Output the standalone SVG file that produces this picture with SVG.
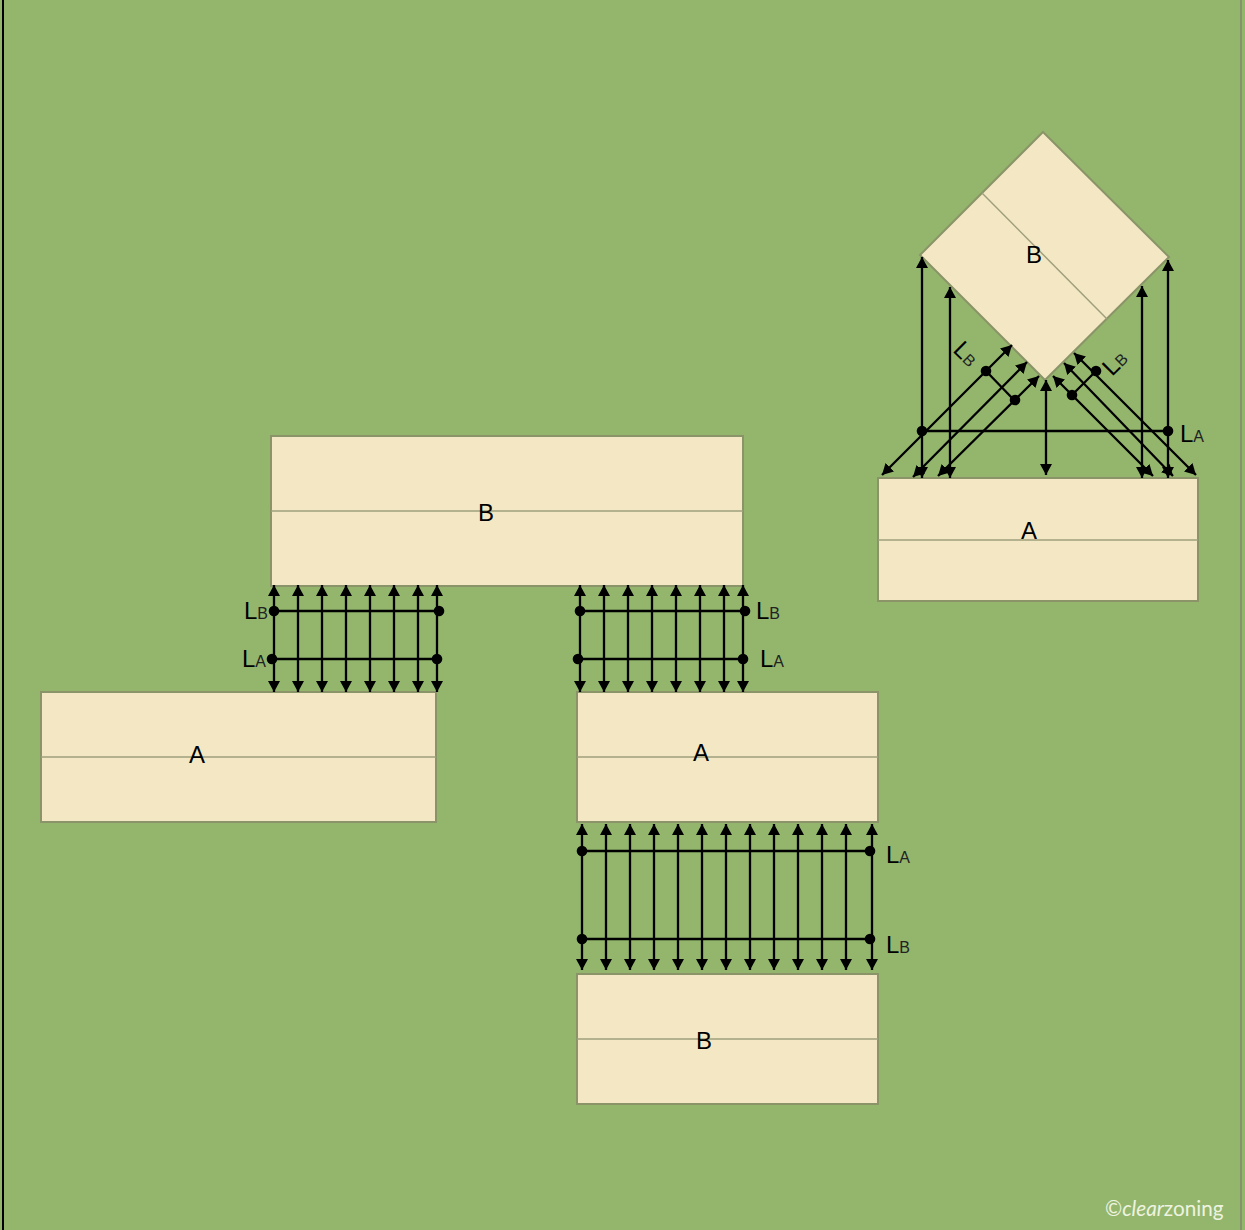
<svg xmlns="http://www.w3.org/2000/svg" width="1245" height="1230" viewBox="0 0 1245 1230">
<style>
.n{fill:#f4e8c4;stroke:#8a9468;stroke-width:2}
.m{fill:none;stroke:#9f9f7e;stroke-width:1.5}
.c line{stroke:#000;stroke-width:2.3;fill:none}
.a{marker-start:url(#h);marker-end:url(#h)}
.t{font-family:"Liberation Sans",Arial,sans-serif;font-size:24px;fill:#000}
.s{font-size:16px;fill:#222}
.d{fill:#000}
</style>
<defs>
<marker id="h" viewBox="0 0 11 13" refX="11" refY="6.5" markerWidth="11" markerHeight="13" markerUnits="userSpaceOnUse" orient="auto-start-reverse"><path d="M0 0.5L11 6.5L0 12.5Z" fill="#000"/></marker>
</defs>
<rect width="1245" height="1230" fill="#93b66c"/>
<line x1="3" y1="0" x2="3" y2="1230" stroke="#000" stroke-width="2"/>
<line x1="1241" y1="0" x2="1241" y2="1230" stroke="#7c8a68" stroke-width="1.5"/>
<g id="node-b-main"><rect class="n" x="271" y="436" width="472" height="150"/><line class="m" x1="271" y1="511" x2="743" y2="511"/><text class="t" x="486" y="521" text-anchor="middle">B</text></g>
<g id="node-a-left"><rect class="n" x="41" y="692" width="395" height="130"/><line class="m" x1="41" y1="757" x2="436" y2="757"/><text class="t" x="197" y="763" text-anchor="middle">A</text></g>
<g id="node-a-mid"><rect class="n" x="577" y="692" width="301" height="130"/><line class="m" x1="577" y1="757" x2="878" y2="757"/><text class="t" x="701" y="761" text-anchor="middle">A</text></g>
<g id="node-b-bottom"><rect class="n" x="577" y="974" width="301" height="130"/><line class="m" x1="577" y1="1039" x2="878" y2="1039"/><text class="t" x="704" y="1049" text-anchor="middle">B</text></g>
<g id="node-a-right"><rect class="n" x="878" y="478" width="320" height="123"/><line class="m" x1="878" y1="540" x2="1198" y2="540"/><text class="t" x="1029" y="539" text-anchor="middle">A</text></g>
<g id="node-b-diamond"><path class="n" d="M1043 132L1169 257L1045 380L920 255Z"/><line class="m" x1="982" y1="193" x2="1107" y2="319"/><text class="t" x="1034" y="263" text-anchor="middle">B</text></g>
<g id="connectors" class="c">
<line class="a" x1="274" y1="585" x2="274" y2="692"/><line class="a" x1="298" y1="585" x2="298" y2="692"/><line class="a" x1="322" y1="585" x2="322" y2="692"/><line class="a" x1="346" y1="585" x2="346" y2="692"/><line class="a" x1="370" y1="585" x2="370" y2="692"/><line class="a" x1="394" y1="585" x2="394" y2="692"/><line class="a" x1="418" y1="585" x2="418" y2="692"/><line class="a" x1="437" y1="585" x2="437" y2="692"/>
<line x1="274" y1="611" x2="439" y2="611"/><line x1="272" y1="659" x2="437" y2="659"/>
<line class="a" x1="580" y1="585" x2="580" y2="692"/><line class="a" x1="604" y1="585" x2="604" y2="692"/><line class="a" x1="628" y1="585" x2="628" y2="692"/><line class="a" x1="652" y1="585" x2="652" y2="692"/><line class="a" x1="676" y1="585" x2="676" y2="692"/><line class="a" x1="700" y1="585" x2="700" y2="692"/><line class="a" x1="724" y1="585" x2="724" y2="692"/><line class="a" x1="743" y1="585" x2="743" y2="692"/>
<line x1="580" y1="611" x2="745" y2="611"/><line x1="578" y1="659" x2="743" y2="659"/>
<line class="a" x1="582" y1="824" x2="582" y2="970"/><line class="a" x1="606" y1="824" x2="606" y2="970"/><line class="a" x1="630" y1="824" x2="630" y2="970"/><line class="a" x1="654" y1="824" x2="654" y2="970"/><line class="a" x1="678" y1="824" x2="678" y2="970"/><line class="a" x1="702" y1="824" x2="702" y2="970"/><line class="a" x1="726" y1="824" x2="726" y2="970"/><line class="a" x1="750" y1="824" x2="750" y2="970"/><line class="a" x1="774" y1="824" x2="774" y2="970"/><line class="a" x1="798" y1="824" x2="798" y2="970"/><line class="a" x1="822" y1="824" x2="822" y2="970"/><line class="a" x1="846" y1="824" x2="846" y2="970"/><line class="a" x1="872" y1="824" x2="872" y2="970"/>
<line x1="582" y1="851" x2="870" y2="851"/><line x1="582" y1="939" x2="870" y2="939"/>
<line class="a" x1="922" y1="257" x2="922" y2="478"/><line class="a" x1="950" y1="287" x2="950" y2="478"/><line class="a" x1="1046" y1="380" x2="1046" y2="475"/><line class="a" x1="1142" y1="286" x2="1142" y2="478"/><line class="a" x1="1168" y1="260" x2="1168" y2="478"/>
<line class="a" x1="882" y1="475" x2="1012" y2="345"/><line class="a" x1="913" y1="477" x2="1027" y2="362"/><line class="a" x1="938" y1="476" x2="1039" y2="376"/>
<line class="a" x1="1074" y1="353" x2="1196" y2="475"/><line class="a" x1="1064" y1="363" x2="1173" y2="476"/><line class="a" x1="1053" y1="376" x2="1153" y2="476"/>
<line x1="986" y1="371" x2="1014" y2="400"/><line x1="1096" y1="371" x2="1072" y2="395"/><line x1="922" y1="431" x2="1168" y2="431"/>
</g>
<g id="dots" class="d">
<circle cx="274" cy="611" r="5.3"/><circle cx="439" cy="611" r="5.3"/><circle cx="272" cy="659" r="5.3"/><circle cx="437" cy="659" r="5.3"/>
<circle cx="580" cy="611" r="5.3"/><circle cx="745" cy="611" r="5.3"/><circle cx="578" cy="659" r="5.3"/><circle cx="743" cy="659" r="5.3"/>
<circle cx="582" cy="851" r="5.3"/><circle cx="870" cy="851" r="5.3"/><circle cx="582" cy="939" r="5.3"/><circle cx="870" cy="939" r="5.3"/>
<circle cx="922" cy="431" r="5.3"/><circle cx="1168" cy="431" r="5.3"/><circle cx="986" cy="371" r="5.3"/><circle cx="1015" cy="400" r="5.3"/><circle cx="1096" cy="371" r="5.3"/><circle cx="1072" cy="395" r="5.3"/>
</g>
<g id="labels">
<text class="t" x="244" y="619">L<tspan class="s">B</tspan></text>
<text class="t" x="242" y="667">L<tspan class="s">A</tspan></text>
<text class="t" x="756" y="619">L<tspan class="s">B</tspan></text>
<text class="t" x="760" y="667">L<tspan class="s">A</tspan></text>
<text class="t" x="886" y="863">L<tspan class="s">A</tspan></text>
<text class="t" x="886" y="953">L<tspan class="s">B</tspan></text>
<text class="t" x="1180" y="442">L<tspan class="s">A</tspan></text>
<text class="t" transform="translate(952 351) rotate(45)">L<tspan class="s">B</tspan></text>
<text class="t" transform="translate(1112 377) rotate(-45)">L<tspan class="s">B</tspan></text>
</g>
<text id="credit" x="1105" y="1216" font-family="Lato,'Open Sans',sans-serif" font-size="20.7" fill="#eef3e0">©<tspan font-style="italic">clear</tspan>zoning</text>
</svg>
